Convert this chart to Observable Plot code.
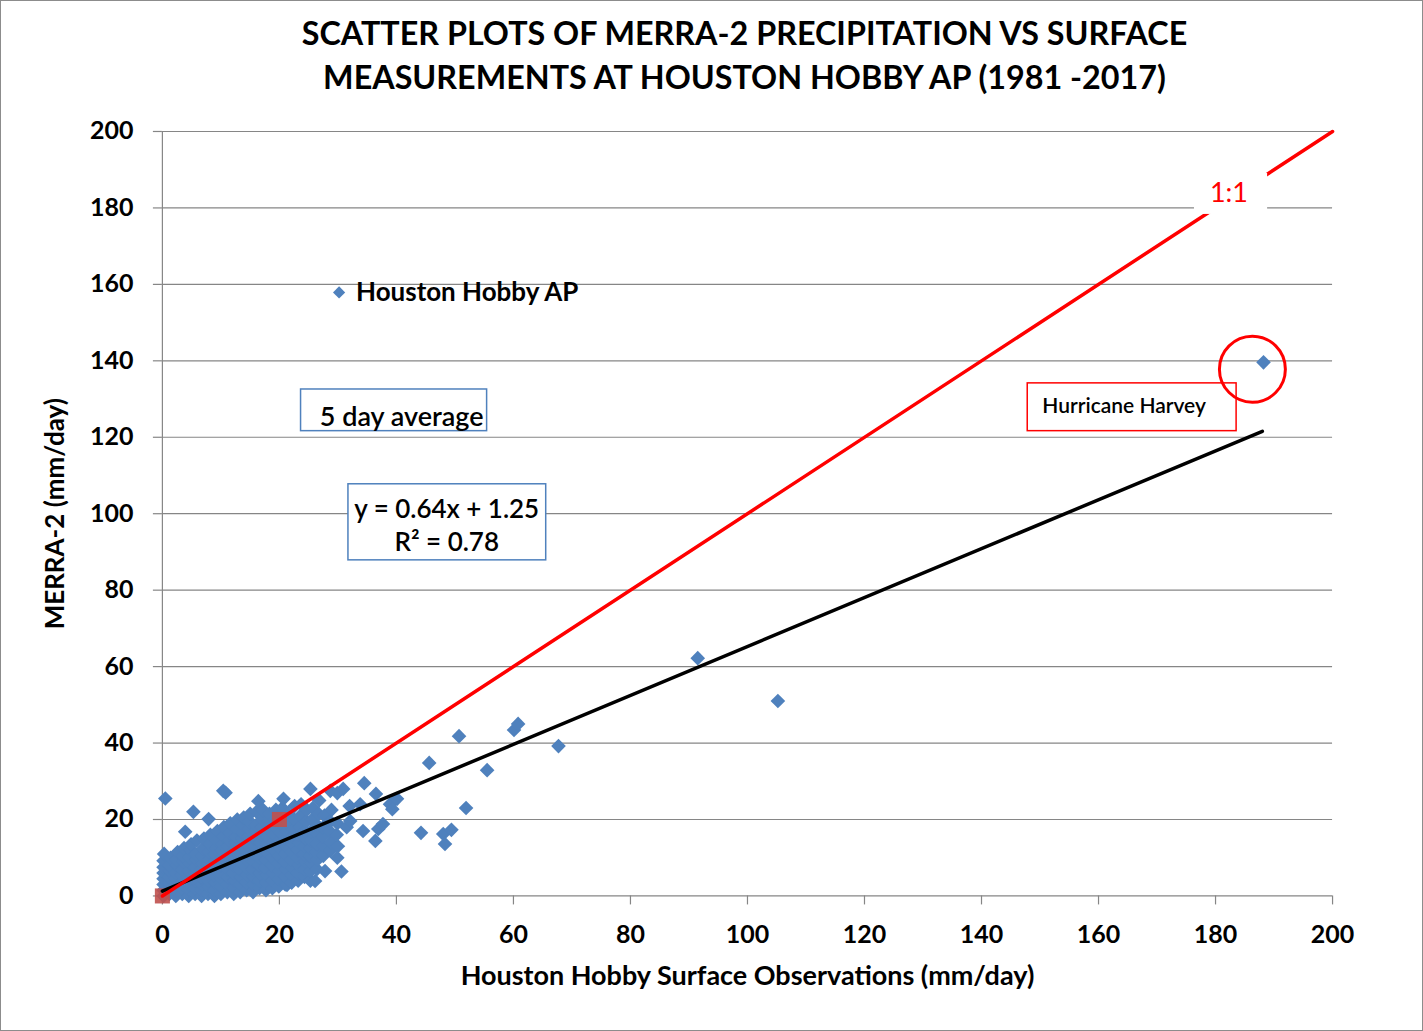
<!DOCTYPE html>
<html>
<head>
<meta charset="utf-8">
<script src="https://cdn.jsdelivr.net/npm/d3@7"></script>
<script src="https://cdn.jsdelivr.net/npm/@observablehq/plot@0.6"></script>
<style>
  html, body { margin: 0; padding: 0; background: white; }
  #frame { position: relative; width: 1423px; height: 1031px; box-sizing: border-box; border: 1px solid #8c8c8c; background: white; overflow: hidden; }
  #title { box-sizing: border-box; width: 1421px; height: 109px; padding-left: 66px; padding-top: 10px; text-align: center;
           font-family: Lato, "Open Sans", sans-serif; font-weight: bold; font-size: 32.3px; line-height: 44px; color: black; }
  #chart { position: absolute; left: -1px; top: 109px; }
</style>
</head>
<body>
<div id="frame">
  <div id="title">SCATTER PLOTS OF MERRA-2 PRECIPITATION VS SURFACE<br>MEASUREMENTS AT HOUSTON HOBBY AP (1981 -2017)</div>
  <div id="chart"></div>
</div>
<script>
// ---------------- DATA ----------------
const xTicks = [0, 20, 40, 60, 80, 100, 120, 140, 160, 180, 200];
const yTicks = [0, 20, 40, 60, 80, 100, 120, 140, 160, 180, 200];

// dense cluster of 5-day averages [surface obs, MERRA-2] (mm/day)
const clusterPoints = [
[0.2,0],[0.2,1.5],[0.2,3],[0.2,4.5],[0.2,6],[0.2,7.5],[0.2,9.2],[0.3,11],[0.5,25.5],
[1.2,0.5],[1.2,2],[1.2,3.5],[1.1,5],[1.3,6.5],[1.2,8],[1.4,10],
[2.3,0],[2.3,1.5],[2.4,3],[2.2,4.5],[2.3,6],[2.5,8],[2.4,9.5],[2.6,11.5],
[3.4,0.5],[3.4,2],[3.5,4],[3.3,5.5],[3.4,7],[3.6,9],[3.5,10.5],[3.7,12.5],[3.9,16.8],
[4.5,0],[4.5,1.5],[4.6,3],[4.4,5],[4.5,6.5],[4.7,8.5],[4.6,10],[4.8,12],[4.9,13.5],
[5.3,22],
[5.6,0.5],[5.6,2],[5.7,4],[5.5,6],[5.6,7.5],[5.8,9.5],[5.7,11],[5.9,14.5],
[6.7,0],[6.7,1.5],[6.8,3],[6.6,5],[6.7,7],[6.9,8.5],[6.8,10.5],[7,12.5],[7.1,15],
[7.8,0.5],[7.8,2.5],[7.9,4],[7.7,6],[7.8,8],[8,9.5],[7.9,11.5],[8.1,13.5],[8.2,16],[7.9,20.1],
[8.9,0],[8.9,1.5],[9,3.5],[8.8,5.5],[8.9,7],[9.1,9],[9,11],[9.2,12.5],[9.3,14.5],[9.4,17],
[10,0.5],[10,2.5],[10.1,4.5],[9.9,6],[10,8],[10.2,10],[10.1,12],[10.3,13.5],[10.4,15.5],[10.5,18],
[10.4,27.5],[10.8,27],
[11.1,1],[11.1,3],[11.2,5],[11,7],[11.1,9],[11.3,11],[11.2,13],[11.4,14.5],[11.5,16.5],[11.6,19],
[12.2,0.5],[12.2,2],[12.3,4],[12.1,6],[12.2,8],[12.4,10],[12.3,12],[12.5,14],[12.6,15.5],[12.7,17.5],[12.8,20],
[13.3,1],[13.3,3],[13.4,5],[13.2,7],[13.3,9],[13.5,11],[13.4,13],[13.6,15],[13.7,16.5],[13.8,18.5],[13.9,20.5],
[14.4,1.5],[14.4,3.5],[14.5,5.5],[14.3,7.5],[14.4,9.5],[14.6,11.5],[14.5,13.5],[14.7,15.5],[14.8,17.5],[14.9,19.5],[15,21.5],
[15.5,1],[15.5,3],[15.6,5],[15.4,7],[15.5,9],[15.7,11],[15.6,13],[15.8,15],[15.9,17],[16,18.5],[16.1,22],
[16.4,24.8],
[16.6,2],[16.6,4],[16.7,6],[16.5,8],[16.6,10],[16.8,12],[16.7,14],[16.9,16],[17,18],[17.1,20],[17.2,22.5],
[17.7,1.5],[17.7,3.5],[17.8,5.5],[17.6,7.5],[17.7,9.5],[17.9,11.5],[17.8,13.5],[18,15.5],[18.1,17.5],[18.2,19.5],[18.3,21.5],
[18.8,2],[18.8,4],[18.9,6],[18.7,8],[18.8,10],[19,12],[18.9,14],[19.1,16],[19.2,18],[19.3,20],[19.4,22.5],
[19.9,2.5],[19.9,4.5],[20,6.5],[19.8,8.5],[19.9,10.5],[20.1,12.5],[20,14.5],[20.2,16.5],[20.3,19],[20.4,21],[20.5,23],
[20.7,25.4],
[21,3],[21.3,2.9],[21,5],[21.1,7],[20.9,9],[21,11],[21.2,13],[21.1,15],[21.3,17],[21.4,19],[21.5,21.5],
[22.1,3.5],[22.1,5.5],[22.2,7.5],[22,9.5],[22.1,11.5],[22.3,13.5],[22.2,15.5],[22.4,17.5],[22.5,20],[22.6,23.5],
[23.2,4],[23.2,6],[23.3,8],[23.1,10],[23.2,12],[23.4,14],[23.3,16],[23.5,18],[23.6,21],[23.7,24],
[24.3,5],[24.3,7],[24.4,9],[24.2,11],[24.3,13],[24.5,15],[24.4,17],[24.6,19.5],[24.7,22.5],
[25.3,4],[25.3,6.5],[25.4,8.5],[25.2,10.5],[25.3,12.5],[25.5,14.5],[25.4,17],[25.6,20],[25.7,23],[25.3,28],
[26.1,3.9],[26.4,7],[26.5,9.5],[26.3,11.5],[26.4,13.5],[26.6,16],[26.5,18.5],[26.7,21.5],[26.8,25],
[27.8,6.5],[27.5,10.5],[27.6,13],[27.4,15.5],[27.5,18],[27.7,21],
[28.7,11.8],[28.8,14],[28.6,17],[28.7,19.5],[28.9,22.5],[28.7,27.5],
[29.9,10],[30,13],[29.8,16],[29.9,19],[29.9,26.9],
[30.6,6.4],[30.9,28],[31.5,18],[32.1,19.6],[32,23.5],[33.8,24],[34.3,17],[34.5,29.5],
[36.5,26.7],[36.9,17.5],[37.7,18.8],[36.4,14.4],[38.9,24],[40.1,25.4],[39.3,22.7]
];

// scattered larger events [surface obs, MERRA-2]
const outlierPoints = [
[44.2,16.5],[45.6,34.8],[48,16.2],[48.3,13.6],[49.4,17.3],[50.7,41.8],[51.9,23],
[55.5,32.9],[60.1,43.4],[60.8,45],[67.7,39.2],[91.5,62.2],[105.2,51]
];

// Hurricane Harvey 5-day average
const harveyPoint = [[188.2, 139.6]];

// 1:1 reference series (line end points and its two visible markers)
const oneToOneLine = [[0, 0], [200, 200]];
const oneToOneMarkers = [[0, 0], [20, 20]];

// linear fit y = 0.64x + 1.25, R² = 0.78
const fitSlope = 0.64;
const fitIntercept = 1.25;
const fitXRange = [0, 188];

// annotation texts
const seriesName = "Houston Hobby AP";
const avgLabel = "5 day average";
const eqLabel = "y = 0.64x + 1.25\nR² = 0.78";
const harveyLabel = "Hurricane Harvey";
const oneToOneLabel = "1:1";
const xLabel = "Houston Hobby Surface Observations (mm/day)";
const yLabel = "MERRA-2 (mm/day)";

// ---------------- CHART ----------------
const fitLine = fitXRange.map(x => [x, fitSlope * x + fitIntercept]);
const blue = "#4F81BD";
const gray = "#868686";
const font = "Lato";

const chart = Plot.plot({
  width: 1423,
  height: 922,
  marginLeft: 162,
  marginRight: 90,
  marginTop: 21,
  marginBottom: 136,
  x: {domain: [0, 200]},
  y: {domain: [0, 200]},
  style: {fontFamily: font, fontSize: "25px", color: "black", background: "white", overflow: "visible"},
  marks: [
    Plot.gridY(yTicks, {stroke: gray, strokeOpacity: 1, strokeWidth: 1.2}),
    Plot.ruleX([0], {stroke: gray, strokeWidth: 1.2}),
    Plot.axisY({ticks: yTicks, tickSize: 9, tickPadding: 20, stroke: gray, strokeWidth: 1.2, fill: "black",
                fontWeight: "bold", fontSize: 25, label: null}),
    Plot.axisX({ticks: xTicks, tickSize: 9, tickPadding: 20, stroke: gray, strokeWidth: 1.2, fill: "black",
                fontWeight: "bold", fontSize: 25, label: null}),
    Plot.dot(clusterPoints, {x: d => d[0], y: d => d[1], symbol: "diamond2", r: 6.6, fill: blue}),
    Plot.dot(outlierPoints, {x: d => d[0], y: d => d[1], symbol: "diamond2", r: 6.6, fill: blue}),
    Plot.dot(harveyPoint, {x: d => d[0], y: d => d[1], symbol: "diamond2", r: 6.6, fill: blue}),
    Plot.dot(oneToOneMarkers, {x: d => d[0], y: d => d[1], symbol: "square", r: 8.5, fill: "#C0504D", fillOpacity: 0.9}),
    Plot.line(fitLine, {x: d => d[0], y: d => d[1], stroke: "black", strokeWidth: 3.5}),
    Plot.line(oneToOneLine, {x: d => d[0], y: d => d[1], stroke: "#FF0000", strokeWidth: 3.5}),
    // legend
    Plot.dot([[30.2, 157.9]], {x: d => d[0], y: d => d[1], symbol: "diamond2", r: 5.5, fill: blue}),
    Plot.text([seriesName], {x: 33.1, y: 157.9, textAnchor: "start", fontWeight: "bold", fontSize: 26}),
    // "5 day average" box
    Plot.rect([0], {x1: 23.7, x2: 55.5, y1: 121.6, y2: 132.5, fill: "white", stroke: blue, strokeWidth: 1.5}),
    Plot.text([avgLabel], {x: 40.9, y: 125.3, fontSize: 27, fontWeight: 600}),
    // equation box
    Plot.rect([0], {x1: 31.8, x2: 65.6, y1: 87.8, y2: 107.7, fill: "white", stroke: blue, strokeWidth: 1.5}),
    Plot.text([eqLabel], {x: 48.6, y: 97.4, fontSize: 26, fontWeight: 600, lineHeight: 1.3}),
    // Hurricane Harvey box
    Plot.rect([0], {x1: 147.9, x2: 183.6, y1: 121.6, y2: 134.1, fill: "white", stroke: "#FF0000", strokeWidth: 1.5}),
    Plot.text([harveyLabel], {x: 150.4, y: 128.1, textAnchor: "start", fontSize: 21, fontWeight: 600}),
    // 1:1 label
    Plot.rect([0], {x1: 176.4, x2: 188.9, y1: 178.3, y2: 189, fill: "white"}),
    Plot.text([oneToOneLabel], {x: 182.3, y: 183.8, fill: "#FF0000", fontSize: 27}),
    // Harvey circle
    Plot.dot(harveyPoint, {x: d => d[0] - 1.9, y: d => d[1] - 1.8, r: 33, stroke: "#FF0000", strokeWidth: 3, fill: "none"}),
    // axis titles
    Plot.text([xLabel], {frameAnchor: "bottom", lineAnchor: "middle", textAnchor: "middle", dy: 80, fontWeight: "bold", fontSize: 27}),
    Plot.text([yLabel], {frameAnchor: "left", textAnchor: "middle", lineAnchor: "middle", dx: -107, rotate: -90, fontWeight: "bold", fontSize: 26})
  ]
});
document.getElementById("chart").appendChild(chart);
</script>
</body>
</html>
